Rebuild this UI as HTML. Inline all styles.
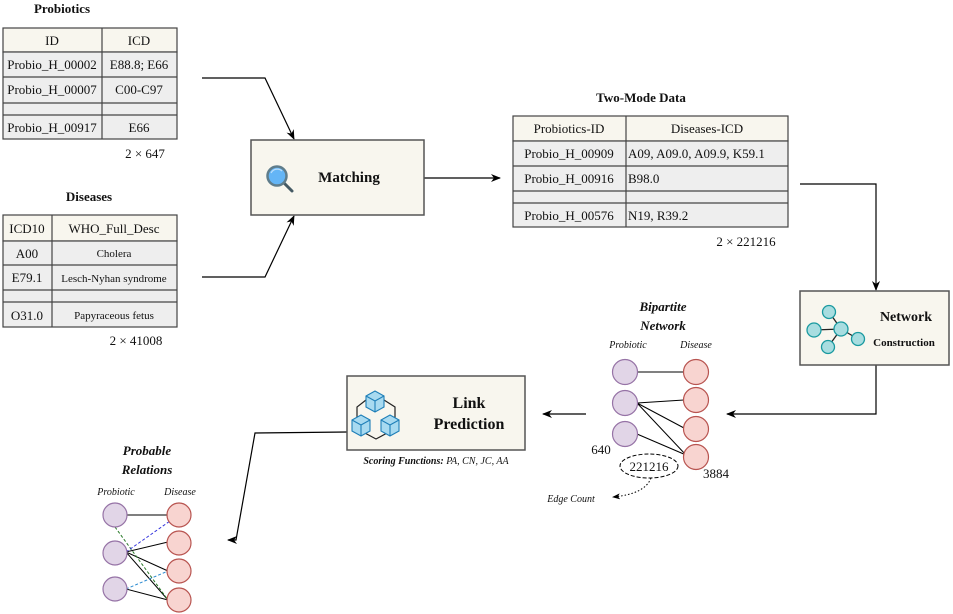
<!DOCTYPE html>
<html><head><meta charset="utf-8"><style>
body{margin:0;background:#fff}
svg{display:block}
text{font-family:"Liberation Serif",serif;fill:#111}
</style></head><body>
<svg width="953" height="614" viewBox="0 0 953 614" xmlns="http://www.w3.org/2000/svg">
<defs>
<marker id="ah" markerWidth="10" markerHeight="8" refX="9" refY="4" orient="auto" markerUnits="userSpaceOnUse"><path d="M0,0 L10,4 L0,8 L3,4 Z" fill="#000"/></marker>
<marker id="ah2" markerWidth="8" markerHeight="6" refX="7" refY="3" orient="auto" markerUnits="userSpaceOnUse"><path d="M0,0 L8,3 L0,6 L2,3 Z" fill="#000"/></marker>
</defs>

<!-- Probiotics table -->
<text x="62" y="13" font-size="13" font-weight="bold" text-anchor="middle">Probiotics</text>
<g stroke="#444" stroke-width="1.2">
<rect x="3" y="28" width="174" height="24" fill="#f8f6ee"/>
<rect x="3" y="52" width="174" height="87" fill="#eeeeee"/>
<line x1="3" y1="77" x2="177" y2="77"/><line x1="3" y1="103" x2="177" y2="103"/><line x1="3" y1="115" x2="177" y2="115"/>
<line x1="102" y1="28" x2="102" y2="139"/>
</g>
<g font-size="13" text-anchor="middle">
<text x="52" y="45">ID</text><text x="139" y="45">ICD</text>
<text x="52" y="69">Probio_H_00002</text><text x="139" y="69">E88.8; E66</text>
<text x="52" y="94">Probio_H_00007</text><text x="139" y="94">C00-C97</text>
<text x="52" y="132">Probio_H_00917</text><text x="139" y="132">E66</text>
</g>
<text x="145" y="158" font-size="13" text-anchor="middle">2 × 647</text>

<!-- Diseases table -->
<text x="89" y="201" font-size="13" font-weight="bold" text-anchor="middle">Diseases</text>
<g stroke="#444" stroke-width="1.2">
<rect x="3" y="215" width="174" height="26" fill="#f8f6ee"/>
<rect x="3" y="241" width="174" height="86" fill="#eeeeee"/>
<line x1="3" y1="265" x2="177" y2="265"/><line x1="3" y1="290" x2="177" y2="290"/><line x1="3" y1="302" x2="177" y2="302"/>
<line x1="52" y1="215" x2="52" y2="327"/>
</g>
<g text-anchor="middle">
<text x="27" y="233" font-size="13">ICD10</text><text x="114" y="233" font-size="13">WHO_Full_Desc</text>
<text x="27" y="258" font-size="13">A00</text><text x="114" y="257" font-size="11">Cholera</text>
<text x="27" y="282" font-size="13">E79.1</text><text x="114" y="282" font-size="11">Lesch-Nyhan syndrome</text>
<text x="27" y="320" font-size="13">O31.0</text><text x="114" y="319" font-size="11">Papyraceous fetus</text>
</g>
<text x="136" y="345" font-size="13" text-anchor="middle">2 × 41008</text>

<!-- connectors to matching -->
<g fill="none" stroke="#000" stroke-width="1.2">
<polyline points="202,78 265,78 294,139" marker-end="url(#ah)"/>
<polyline points="202,277 265,277 294,216" marker-end="url(#ah)"/>
<line x1="424" y1="178" x2="500" y2="178" marker-end="url(#ah)"/>
</g>

<!-- Matching box -->
<rect x="251" y="140" width="173" height="75" fill="#f8f6ee" stroke="#555" stroke-width="1.5"/>
<line x1="283" y1="182" x2="292" y2="191" stroke="#455a64" stroke-width="3" stroke-linecap="round"/>
<circle cx="277" cy="176" r="9.5" fill="#64b5f6" stroke="#607d8b" stroke-width="2.5"/>
<path d="M271,173 A7,7 0 0 1 282,171" stroke="#bbdefb" stroke-width="1.3" fill="none"/>
<text x="349" y="182" font-size="15" font-weight="bold" text-anchor="middle">Matching</text>

<!-- Two-mode table -->
<text x="641" y="102" font-size="13" font-weight="bold" text-anchor="middle">Two-Mode Data</text>
<g stroke="#444" stroke-width="1.2">
<rect x="513" y="116" width="275" height="25" fill="#f8f6ee"/>
<rect x="513" y="141" width="275" height="86" fill="#eeeeee"/>
<line x1="513" y1="166" x2="788" y2="166"/><line x1="513" y1="191" x2="788" y2="191"/><line x1="513" y1="203" x2="788" y2="203"/>
<line x1="626" y1="116" x2="626" y2="227"/>
</g>
<g font-size="13">
<text x="569" y="133" text-anchor="middle">Probiotics-ID</text><text x="707" y="133" text-anchor="middle">Diseases-ICD</text>
<text x="569" y="158" text-anchor="middle">Probio_H_00909</text><text x="628" y="158">A09, A09.0, A09.9, K59.1</text>
<text x="569" y="183" text-anchor="middle">Probio_H_00916</text><text x="628" y="183">B98.0</text>
<text x="569" y="220" text-anchor="middle">Probio_H_00576</text><text x="628" y="220">N19, R39.2</text>
</g>
<text x="746" y="246" font-size="13" text-anchor="middle">2 × 221216</text>

<g fill="none" stroke="#000" stroke-width="1.2">
<polyline points="800,184 876,184 876,290" marker-end="url(#ah)"/>
<polyline points="876,365 876,414 727,414" marker-end="url(#ah)"/>
<line x1="586" y1="414" x2="543" y2="414" marker-end="url(#ah)"/>
<polyline points="347,432 255,433 236,540 228,540" marker-end="url(#ah)"/>
</g>

<!-- Network box -->
<rect x="800" y="291" width="149" height="74" fill="#f8f6ee" stroke="#555" stroke-width="1.5"/>
<g stroke="#222" stroke-width="1.3">
<line x1="829" y1="312" x2="841" y2="329"/><line x1="814" y1="330" x2="841" y2="329"/>
<line x1="841" y1="329" x2="858" y2="339"/><line x1="841" y1="329" x2="828" y2="347"/>
</g>
<g fill="#a8dde0" stroke="#1a9aa0" stroke-width="1.3">
<circle cx="829" cy="312" r="6.5"/><circle cx="814" cy="330" r="7"/><circle cx="841" cy="329" r="7"/>
<circle cx="858" cy="339" r="6.5"/><circle cx="828" cy="347" r="6.5"/>
</g>
<text x="906" y="321" font-size="14" font-weight="bold" text-anchor="middle">Network</text>
<text x="904" y="346" font-size="11" font-weight="bold" text-anchor="middle">Construction</text>

<!-- Bipartite network -->
<text x="663" y="311" font-size="13" font-weight="bold" font-style="italic" text-anchor="middle">Bipartite</text>
<text x="663" y="330" font-size="13" font-weight="bold" font-style="italic" text-anchor="middle">Network</text>
<text x="628" y="348" font-size="10" font-style="italic" text-anchor="middle">Probiotic</text>
<text x="696" y="348" font-size="10" font-style="italic" text-anchor="middle">Disease</text>
<g stroke="#000" stroke-width="1">
<line x1="625" y1="372" x2="696" y2="372"/>
<line x1="637" y1="403" x2="684" y2="400"/>
<line x1="637" y1="403" x2="684" y2="428"/>
<line x1="637" y1="403" x2="686" y2="455"/>
<line x1="637" y1="434" x2="686" y2="455"/>
</g>
<g fill="#e1d5e7" stroke="#9673a6" stroke-width="1.2">
<circle cx="625" cy="372" r="12.5"/><circle cx="625" cy="403" r="12.5"/><circle cx="625" cy="434" r="12.5"/>
</g>
<g fill="#f8d4d0" stroke="#b85450" stroke-width="1.2">
<circle cx="696" cy="372" r="12.5"/><circle cx="696" cy="400" r="12.5"/><circle cx="696" cy="429" r="12.5"/><circle cx="696" cy="457" r="12.5"/>
</g>
<text x="601" y="454" font-size="13" text-anchor="middle">640</text>
<text x="716" y="478" font-size="13" text-anchor="middle">3884</text>
<ellipse cx="649" cy="466" rx="29" ry="12" fill="none" stroke="#000" stroke-dasharray="4,2"/>
<text x="649" y="471" font-size="13" text-anchor="middle">221216</text>
<path d="M651,478 Q645,494 613,497" fill="none" stroke="#000" stroke-dasharray="1.5,2" marker-end="url(#ah2)"/>
<text x="571" y="502" font-size="10" font-style="italic" text-anchor="middle">Edge Count</text>

<!-- Link Prediction box -->
<rect x="347" y="376" width="178" height="74" fill="#f8f6ee" stroke="#555" stroke-width="1.5"/>
<path d="M357,420 L357,407 L366,400 M384,400 L395,407 L395,420 M363,432 L376,439 L389,432" fill="none" stroke="#222" stroke-width="1.2"/>
<g fill="#a8daf0" stroke="#1e7fb8" stroke-width="1.1">
<g transform="translate(375,401)"><path d="M-9,-5 L0,-10 L9,-5 L9,6 L0,11 L-9,6 Z"/><path d="M-9,-5 L0,0 L9,-5 M0,0 L0,11" fill="none"/></g>
<g transform="translate(361,425)"><path d="M-9,-5 L0,-10 L9,-5 L9,6 L0,11 L-9,6 Z"/><path d="M-9,-5 L0,0 L9,-5 M0,0 L0,11" fill="none"/></g>
<g transform="translate(390,425)"><path d="M-9,-5 L0,-10 L9,-5 L9,6 L0,11 L-9,6 Z"/><path d="M-9,-5 L0,0 L9,-5 M0,0 L0,11" fill="none"/></g>
</g>
<text x="469" y="408" font-size="16" font-weight="bold" text-anchor="middle">Link</text>
<text x="469" y="429" font-size="16" font-weight="bold" text-anchor="middle">Prediction</text>
<text x="436" y="464" font-size="10" font-style="italic" text-anchor="middle"><tspan font-weight="bold">Scoring Functions:</tspan> PA, CN, JC, AA</text>

<!-- Probable relations -->
<text x="147" y="455" font-size="13" font-weight="bold" font-style="italic" text-anchor="middle">Probable</text>
<text x="147" y="474" font-size="13" font-weight="bold" font-style="italic" text-anchor="middle">Relations</text>
<text x="116" y="495" font-size="10" font-style="italic" text-anchor="middle">Probiotic</text>
<text x="180" y="495" font-size="10" font-style="italic" text-anchor="middle">Disease</text>
<g stroke-width="1">
<line x1="115" y1="515" x2="179" y2="515" stroke="#555" stroke-width="1.5"/>
<line x1="126" y1="552" x2="168" y2="542" stroke="#000"/>
<line x1="126" y1="552" x2="168" y2="571" stroke="#000"/>
<line x1="126" y1="552" x2="168" y2="600" stroke="#000"/>
<line x1="126" y1="589" x2="168" y2="600" stroke="#000"/>
<line x1="115" y1="527" x2="168" y2="600" stroke="#2a7a2a" stroke-dasharray="3,2"/>
<line x1="126" y1="552" x2="170" y2="521" stroke="#3333dd" stroke-dasharray="3,2"/>
<line x1="126" y1="589" x2="168" y2="571" stroke="#2a8ad0" stroke-dasharray="3,2"/>
</g>
<g fill="#e1d5e7" stroke="#9673a6" stroke-width="1.2">
<circle cx="115" cy="515" r="12"/><circle cx="115" cy="553" r="12"/><circle cx="115" cy="589" r="12"/>
</g>
<g fill="#f8d4d0" stroke="#b85450" stroke-width="1.2">
<circle cx="179" cy="515" r="12"/><circle cx="179" cy="543" r="12"/><circle cx="179" cy="571" r="12"/><circle cx="179" cy="600" r="12"/>
</g>
</svg>
</body></html>
